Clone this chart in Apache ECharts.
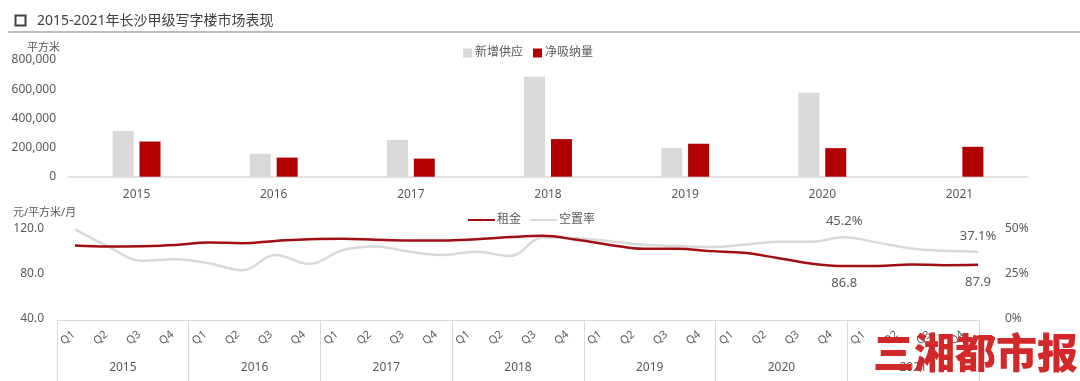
<!DOCTYPE html>
<html><head><meta charset="utf-8">
<script src="https://cdn.jsdelivr.net/npm/echarts@6/dist/echarts.min.js"></script>
<style>html,body{margin:0;padding:0;background:#fff}#c{width:1080px;height:381px}</style>
</head><body><div id="c"></div>
<script>
const years = ['2015','2016','2017','2018','2019','2020','2021'];
const newSupply = [313000, 157000, 253000, 686000, 196000, 575000, 0];
const netAbsorption = [241000, 131000, 124000, 258000, 226000, 196000, 205000];
const quarterLabels = ['Q1','Q2','Q3','Q4','Q1','Q2','Q3','Q4','Q1','Q2','Q3','Q4','Q1','Q2','Q3','Q4','Q1','Q2','Q3','Q4','Q1','Q2','Q3','Q4','Q1','Q2','Q3','Q4'];
const rent = [104.9,104.0,104.4,105.5,107.6,107.0,109.0,110.6,110.9,110.0,109.4,109.4,110.6,112.4,113.5,110.0,105.5,102.0,102.0,100.0,98.5,94.0,89.0,86.8,86.9,88.2,87.6,87.9];
const vacancyPct = [49.5,40.0,32.2,33.0,30.8,27.0,35.4,30.4,38.0,40.0,37.2,35.4,37.2,34.8,45.0,44.6,43.0,41.0,40.3,39.8,41.0,42.7,42.7,45.2,42.2,39.0,37.7,37.1];
const labeledPoints = [23, 27];
const leftTicks = [40, 120, 40];      // min, max, interval
const rightTicks = [0, 0.5, 0.25];
const supplyTicks = [0, 800000, 200000];

const FF = '"Noto Sans", "Noto Sans CJK SC", sans-serif';
const TXT = '#595959';
const LG = '#d9d9d9';
const chart = echarts.init(document.getElementById('c'));
const qIdx = quarterLabels.map((q, i) => String(i));

chart.setOption({
  animation: false,
  textStyle: { fontFamily: FF },
  title: { text: '2015-2021年长沙甲级写字楼市场表现', left: 32, top: 9,
    textStyle: { fontSize: 14, fontWeight: 'normal', color: '#404040', fontFamily: FF } },
  graphic: [
    { type: 'rect', left: 13, top: 13, shape: { width: 10, height: 10 }, style: { fill: 'none', stroke: '#404040', lineWidth: 2 } },
    { type: 'line', shape: { x1: 8, y1: 32, x2: 1080, y2: 32 }, style: { stroke: '#a6a6a6', lineWidth: 1.5 } },
    { type: 'text', left: 27, top: 42, style: { text: '平方米', fill: TXT, fontSize: 11, fontFamily: FF } },
    { type: 'text', left: 13, top: 207, style: { text: '元/平方米/月', fill: TXT, fontSize: 11, fontFamily: FF } },
    { type: 'text', left: 873, top: 332, z: 100, style: { text: '三湘都市报', fill: '#d3282a', fontSize: 41, fontWeight: 900, fontFamily: '"Noto Sans CJK SC", sans-serif' } }
  ],
  legend: [
    { data: ['新增供应', '净吸纳量'], top: 42, left: 458, itemWidth: 9, itemHeight: 9, itemGap: 10,
      icon: 'rect', textStyle: { color: TXT, fontSize: 12, fontFamily: FF, padding: [0, 0, 0, -2] } },
    { data: ['租金', '空置率'], top: 209, left: 462, itemWidth: 27, itemHeight: 3, itemGap: 8,
      textStyle: { color: TXT, fontSize: 12, fontFamily: FF, padding: [0, 0, 0, -3] } }
  ],
  grid: [
    { left: 68, right: 52, top: 60, bottom: 204.3 },
    { left: 75, right: 102, top: 228.5, bottom: 62 },
    { left: 57, right: 101, top: 228.5, bottom: 61 }
  ],
  xAxis: [
    { gridIndex: 0, type: 'category', data: years, axisLine: { lineStyle: { color: LG, width: 1.5 } },
      axisTick: { show: false }, axisLabel: { color: TXT, fontSize: 12, margin: 12 } },
    { gridIndex: 1, type: 'category', data: qIdx, boundaryGap: false, show: false },
    { gridIndex: 2, type: 'category', data: quarterLabels, boundaryGap: true,
      axisLine: { lineStyle: { color: LG } }, axisTick: { show: false },
      axisLabel: { rotate: 40, interval: 0, color: TXT, fontSize: 11, margin: 13 } },
    { gridIndex: 2, type: 'category', data: years, boundaryGap: true, position: 'bottom',
      axisLine: { show: false },
      axisTick: { show: true, length: 61, interval: 0, lineStyle: { color: LG } },
      axisLabel: { color: TXT, fontSize: 12, margin: 42 } }
  ],
  yAxis: [
    { gridIndex: 0, type: 'value', min: supplyTicks[0], max: supplyTicks[1], interval: supplyTicks[2],
      splitLine: { show: false }, axisLine: { show: false }, axisTick: { show: false },
      axisLabel: { color: TXT, fontSize: 12, margin: 12, formatter: v => v.toLocaleString('en-US') } },
    { gridIndex: 1, type: 'value', min: leftTicks[0], max: leftTicks[1], interval: leftTicks[2],
      splitLine: { show: false }, axisLine: { show: false }, axisTick: { show: false },
      axisLabel: { color: TXT, fontSize: 12, margin: 31, formatter: v => v.toFixed(1) } },
    { gridIndex: 1, type: 'value', position: 'right', min: rightTicks[0], max: rightTicks[1], interval: rightTicks[2],
      splitLine: { show: false }, axisLine: { show: false }, axisTick: { show: false },
      axisLabel: { color: TXT, fontSize: 12, margin: 27, formatter: v => Math.round(v * 100) + '%' } },
    { gridIndex: 2, type: 'value', show: false }
  ],
  series: [
    { name: '新增供应', type: 'bar', xAxisIndex: 0, yAxisIndex: 0, data: newSupply,
      barWidth: 21, barGap: '28%', itemStyle: { color: '#d9d9d9' } },
    { name: '净吸纳量', type: 'bar', xAxisIndex: 0, yAxisIndex: 0, data: netAbsorption,
      barWidth: 21, itemStyle: { color: '#b20000' } },
    { name: '租金', type: 'line', xAxisIndex: 1, yAxisIndex: 1, smooth: 0.4, symbol: 'circle', symbolSize: 0,
      showSymbol: true, z: 3,
      color: '#a00f12', lineStyle: { color: '#a00f12', width: 2.5 },
      label: { show: false },
      data: rent.map((v, i) => labeledPoints.includes(i)
        ? { value: v, label: { show: true, position: 'bottom', distance: 11, color: TXT, fontSize: 13, formatter: p => p.value.toFixed(1) } }
        : v) },
    { name: '空置率', type: 'line', xAxisIndex: 1, yAxisIndex: 2, smooth: 0.4, symbol: 'circle', symbolSize: 0,
      showSymbol: true, z: 2,
      color: '#d9d9d9', lineStyle: { color: '#d9d9d9', width: 2.5 },
      label: { show: false },
      data: vacancyPct.map((v, i) => labeledPoints.includes(i)
        ? { value: v / 100, label: { show: true, position: 'top', distance: 9, color: TXT, fontSize: 13, formatter: p => (p.value * 100).toFixed(1) + '%' } }
        : v / 100) }
  ]
});
</script></body></html>
